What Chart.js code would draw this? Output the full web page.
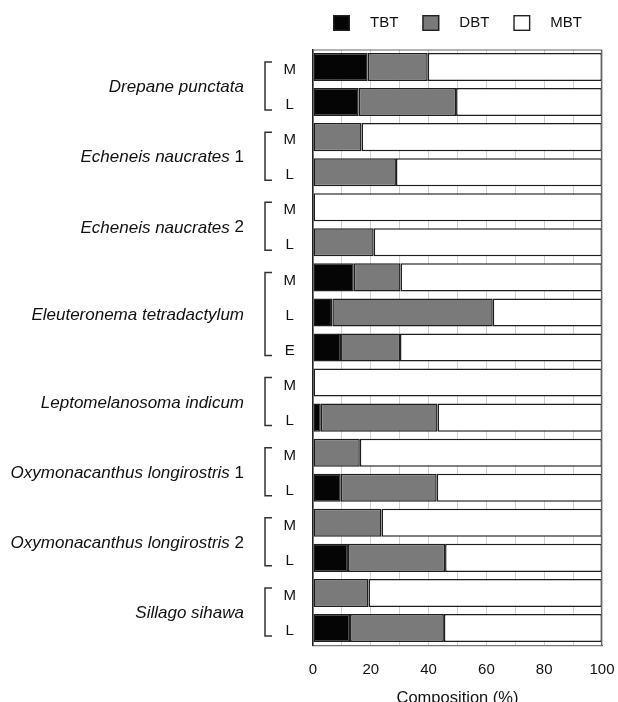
<!DOCTYPE html>
<html>
<head>
<meta charset="utf-8">
<script src="https://cdn.jsdelivr.net/npm/chart.js@4.4.0/dist/chart.umd.min.js"></script>
<style>
  html, body { margin: 0; padding: 0; background: #fff; overflow: hidden; }
  #wrap { width: 618px; height: 708px; }
</style>
</head>
<body>
<div id="wrap"><canvas id="c" width="618" height="708"></canvas></div>
<script>
// Butyltin composition by species and tissue/stage
const speciesNames = ['Drepane punctata', 'Echeneis naucrates', 'Echeneis naucrates',
  'Eleuteronema tetradactylum', 'Leptomelanosoma indicum', 'Oxymonacanthus longirostris',
  'Oxymonacanthus longirostris', 'Sillago sihawa'];
const speciesTags = ['', '1', '2', '', '', '1', '2', ''];
const groupSizes = [2, 2, 2, 3, 2, 2, 2, 2];
const stages = ['M', 'L', 'M', 'L', 'M', 'L', 'M', 'L', 'E', 'M', 'L', 'M', 'L', 'M', 'L', 'M', 'L'];

const tbt = [18.9, 15.8, 0, 0, 0, 0, 14.1, 6.7, 9.7, 0, 2.7, 0, 9.6, 0, 12.1, 0, 12.8];
const dbt = [20.8, 33.7, 16.8, 28.7, 0, 21.0, 16.2, 55.5, 20.4, 0, 40.4, 16.2, 33.2, 23.7, 33.6, 19.2, 32.5];
const mbt = [60.3, 50.5, 83.2, 71.3, 100, 79.0, 69.7, 37.8, 69.9, 100, 56.9, 83.8, 57.2, 76.3, 54.3, 80.8, 54.7];

const xTickStep = 10;
const xLabelStep = 20;

const FONT = "'Liberation Sans', Arial, Helvetica, sans-serif";
const nz = arr => arr.map(v => (v === 0 ? null : v));

const seriesStyle = {
  TBT: '#050505',
  DBT: '#7a7a7a',
  MBT: '#ffffff'
};

function dataset(label, values) {
  return {
    label,
    data: nz(values),
    backgroundColor: seriesStyle[label],
    borderColor: '#1e1e1e',
    borderWidth: 1.5,
    borderSkipped: false,
    barPercentage: 0.8,
    categoryPercentage: 1.0
  };
}

// Legend row above the plot, centred on the plot area
const legendRow = {
  id: 'legendRow',
  afterDraw(chart) {
    const { ctx, chartArea } = chart;
    const box = 17, boxH = 16, gap = 20, spacing = 24;
    ctx.save();
    ctx.font = `15px ${FONT}`;
    const items = chart.data.datasets.map(d => ({ label: d.label, fill: d.backgroundColor, w: ctx.measureText(d.label).width }));
    const total = items.reduce((s, it) => s + box + gap + it.w, 0) + spacing * (items.length - 1);
    let x = (chartArea.left + chartArea.right) / 2 - total / 2;
    const cy = 23;
    items.forEach(it => {
      ctx.fillStyle = it.fill;
      ctx.fillRect(x, cy - boxH / 2, box, boxH);
      ctx.strokeStyle = '#222';
      ctx.lineWidth = 1.4;
      ctx.strokeRect(x + 0.7, cy - boxH / 2 + 0.7, box - 1.4, boxH - 1.4);
      ctx.fillStyle = '#111';
      ctx.textBaseline = 'middle';
      ctx.textAlign = 'left';
      ctx.fillText(it.label, x + box + gap, cy);
      x += box + gap + it.w + spacing;
    });
    ctx.restore();
  }
};

// Plot frame on the top and right edges
const frame = {
  id: 'frame',
  afterDatasetsDraw(chart) {
    const { ctx, chartArea: a } = chart;
    ctx.save();
    ctx.strokeStyle = '#666';
    ctx.lineWidth = 1.2;
    ctx.beginPath();
    ctx.moveTo(a.left, a.top + 0.5);
    ctx.lineTo(a.right - 0.5, a.top + 0.5);
    ctx.lineTo(a.right - 0.5, a.bottom);
    ctx.stroke();
    ctx.restore();
  }
};

// Species names with brackets grouping their rows
const speciesLabels = {
  id: 'speciesLabels',
  afterDraw(chart) {
    const { ctx, chartArea } = chart;
    const ys = chart.scales.y;
    const bracketX = chartArea.left - 48;
    const bracketEnd = chartArea.left - 41;
    const textRight = chartArea.left - 69;
    ctx.save();
    let idx = 0;
    groupSizes.forEach((n, g) => {
      const y0 = ys.getPixelForValue(idx);
      const y1 = ys.getPixelForValue(idx + n - 1);
      ctx.strokeStyle = '#333';
      ctx.lineWidth = 1.5;
      ctx.beginPath();
      ctx.moveTo(bracketEnd, y0 - 5);
      ctx.lineTo(bracketX, y0 - 5);
      ctx.lineTo(bracketX, y1 + 8);
      ctx.lineTo(bracketEnd, y1 + 8);
      ctx.stroke();

      const mid = (y0 + y1) / 2 + 3;
      ctx.fillStyle = '#111';
      ctx.textBaseline = 'middle';
      ctx.textAlign = 'right';
      let right = textRight;
      if (speciesTags[g]) {
        ctx.font = `17px ${FONT}`;
        const tag = ' ' + speciesTags[g];
        ctx.fillText(tag, right, mid);
        right -= ctx.measureText(tag).width;
      }
      ctx.font = `italic 17px ${FONT}`;
      ctx.fillText(speciesNames[g], right, mid);
      idx += n;
    });
    ctx.restore();
  }
};

new Chart(document.getElementById('c'), {
  type: 'bar',
  data: {
    labels: stages,
    datasets: [dataset('TBT', tbt), dataset('DBT', dbt), dataset('MBT', mbt)]
  },
  options: {
    indexAxis: 'y',
    responsive: false,
    animation: false,
    layout: { padding: { top: 49.5, right: 16, left: 0, bottom: 0 } },
    plugins: {
      legend: { display: false },
      tooltip: { enabled: false }
    },
    scales: {
      x: {
        stacked: true,
        min: 0,
        max: 100,
        ticks: {
          stepSize: xTickStep,
          autoSkip: false,
          maxRotation: 0,
          padding: 15,
          color: '#111',
          font: { family: FONT, size: 15 },
          callback: v => (v % xLabelStep === 0 ? String(v) : '')
        },
        grid: { color: '#cfcfcf', lineWidth: 1, drawTicks: false },
        border: { display: true, color: '#777', width: 1.2 },
        title: {
          display: true,
          text: 'Composition (%)',
          color: '#111',
          font: { family: FONT, size: 16.5 },
          padding: { top: 10, bottom: 0 }
        },
        afterFit: s => { s.height = 62.5; s.paddingLeft = 0; s.paddingRight = 0; }
      },
      y: {
        stacked: true,
        offset: true,
        ticks: {
          crossAlign: 'center',
          padding: 17,
          labelOffset: 3,
          color: '#111',
          font: { family: FONT, size: 15 }
        },
        grid: { display: false, drawTicks: false },
        border: { display: true, color: '#222', width: 1.5 },
        afterFit: s => { s.width = 313; s.paddingTop = 0; s.paddingBottom = 0; }
      }
    }
  },
  plugins: [legendRow, frame, speciesLabels]
});
</script>
</body>
</html>
